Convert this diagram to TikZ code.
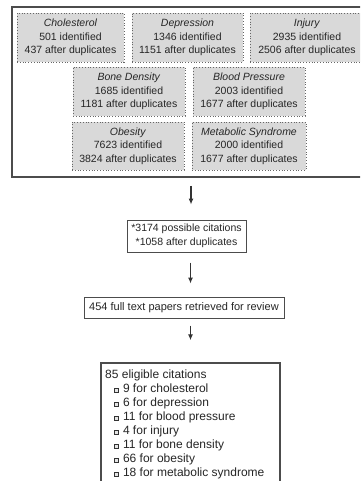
\documentclass[tikz,border=0pt]{standalone}
\usepackage{fontspec}
\setmainfont{Liberation Sans}
\usetikzlibrary{arrows.meta}
\newcommand\sqbul{\raisebox{0.4pt}{\setlength\fboxsep{0pt}\setlength\fboxrule{0.8pt}\fcolorbox{black!80}{black!10}{\rule{0pt}{3.2pt}\rule{3.2pt}{0pt}}}}
\begin{document}
\begin{tikzpicture}[x=1pt,y=-1pt,
  every node/.style={text=black!85, font=\fontsize{10.5}{13.5}\selectfont},
  cat/.style={draw=black!60, dotted, line width=0.8pt, fill=black!15, minimum height=49pt, inner sep=0pt, align=center},
  frame/.style={draw=black!70, line width=1.1pt, inner sep=0pt},
  arr/.style={draw=black!80, line width=1.1pt, -{Latex[length=6pt,width=5pt]}},
  item/.style={anchor=base west, inner sep=0pt, font=\fontsize{12}{14}\selectfont}]
\clip (0,0) rectangle (360,481);
\fill[white] (0,0) rectangle (360,481);
% outer frame
\node[frame, line width=1.6pt, minimum width=358pt, minimum height=170pt] (outer) at (191,92) {};
% categories
\node[cat, minimum width=107pt] (chol) at (70.5,37.5) {\textit{Cholesterol}\\501 identified\\437 after duplicates};
\node[cat, minimum width=111pt] (dep) at (187.5,37.5) {\textit{Depression}\\1346 identified\\1151 after duplicates};
\node[cat, minimum width=114pt] (inj) at (307,37.5) {\textit{Injury}\\2935 identified\\2506 after duplicates};
\node[cat, minimum width=112pt] (bone) at (129,91.5) {\textit{Bone Density}\\1685 identified\\1181 after duplicates};
\node[cat, minimum width=112pt] (bp) at (249,91.5) {\textit{Blood Pressure}\\2003 identified\\1677 after duplicates};
\node[cat, minimum width=112pt, minimum height=48pt] (obe) at (128,146) {\textit{Obesity}\\7623 identified\\3824 after duplicates};
\node[cat, minimum width=114pt, minimum height=48pt] (met) at (249,146) {\textit{Metabolic Syndrome}\\2000 identified\\1677 after duplicates};
% flow boxes
\node[frame, line width=1pt, minimum width=119pt, minimum height=32pt, align=center] (poss) at (186.5,236) {*3174 possible citations\\*1058 after duplicates};
\node[frame, line width=1pt, minimum width=200pt, minimum height=21pt, font=\fontsize{11}{13}\selectfont] (full) at (184,307.5) {454 full text papers retrieved for review};
\node[frame, line width=1.4pt, minimum width=179pt, minimum height=157pt] (elig) at (190.5,441.5) {};
\coordinate (ax) at (190.5,0);
% arrows
\draw[arr, shorten <=8pt, shorten >=15pt] (outer.south) -- (outer.south |- poss.north);
\draw[arr, shorten <=10pt, shorten >=13pt] (poss.south -| ax) -- (full.north -| ax);
\draw[arr, shorten <=7pt, shorten >=22pt] (full.south -| ax) -- (elig.north);
% eligible list
\node[item] (e0) at (105,378) {85 eligible citations};
\node[item] (e1) at (114,392) {\sqbul\hspace{4pt}9 for cholesterol};
\node[item] (e2) at (114,406) {\sqbul\hspace{4pt}6 for depression};
\node[item] (e3) at (114,420) {\sqbul\hspace{4pt}11 for blood pressure};
\node[item] (e4) at (114,434) {\sqbul\hspace{4pt}4 for injury};
\node[item] (e5) at (114,448) {\sqbul\hspace{4pt}11 for bone density};
\node[item] (e6) at (114,462) {\sqbul\hspace{4pt}66 for obesity};
\node[item] (e7) at (114,476) {\sqbul\hspace{4pt}18 for metabolic syndrome};
\end{tikzpicture}
\end{document}
